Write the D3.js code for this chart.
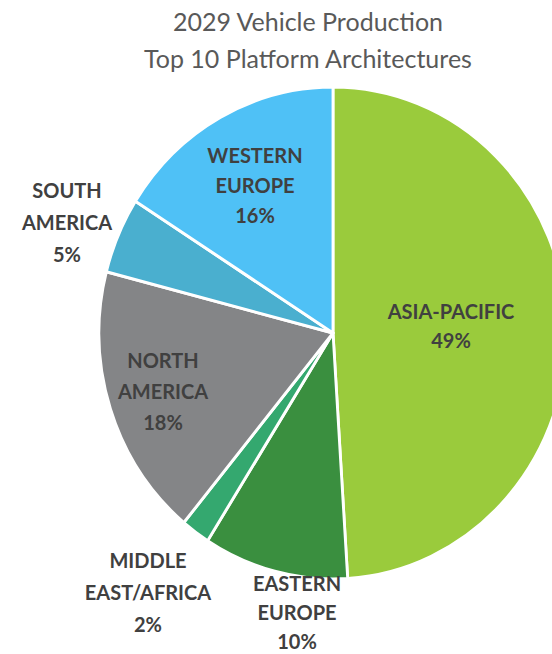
<!DOCTYPE html>
<html>
<head>
<meta charset="utf-8">
<script src="https://cdn.jsdelivr.net/npm/d3@7"></script>
<style>
  html, body { margin: 0; padding: 0; background: #fff; }
  svg { display: block; }
</style>
</head>
<body>
<svg id="chart" width="552" height="654"></svg>
<script>
// Regional share of 2029 production, clockwise from 12 o'clock
const regions = ["ASIA-PACIFIC", "EASTERN EUROPE", "MIDDLE EAST/AFRICA", "NORTH AMERICA", "SOUTH AMERICA", "WESTERN EUROPE"];
const shares = [49, 10, 2, 18, 5, 16];
const titleLines = ["2029 Vehicle Production", "Top 10 Platform Architectures"];

// Presentation
const sliceColors = ["#9acb3c", "#3a8f3f", "#34a86f", "#848587", "#4aafcf", "#4fc1f6"];
// label lines and the centre of each label's first line
const labelLines = [
  ["ASIA-PACIFIC"],
  ["EASTERN", "EUROPE"],
  ["MIDDLE", "EAST/AFRICA"],
  ["NORTH", "AMERICA"],
  ["SOUTH", "AMERICA"],
  ["WESTERN", "EUROPE"]
];
const labelAnchors = [
  [451, 311], [297, 583], [148, 560], [163, 360], [67, 190], [255, 155]
];
const lineGaps = [29, 29, 32, 31, 32, 30];

const svg = d3.select("#chart");
const cx = 333, cy = 333, rx = 234, ry = 246;

const data = regions.map((r, i) => ({
  region: r, value: shares[i], color: sliceColors[i],
  lines: labelLines[i], anchor: labelAnchors[i], gap: lineGaps[i]
}));

const pie = d3.pie().value(d => d.value).sort(null);
const arc = d3.arc().innerRadius(0).outerRadius(ry);

// pie is drawn slightly taller than wide
const g = svg.append("g").attr("transform", `translate(${cx},${cy}) scale(${rx / ry},1)`);
g.selectAll("path")
  .data(pie(data))
  .join("path")
  .attr("d", arc)
  .attr("fill", d => d.data.color)
  .attr("stroke", "#ffffff")
  .attr("stroke-width", 3)
  .attr("stroke-linejoin", "round");

// Title
svg.append("g").selectAll("text")
  .data(titleLines)
  .join("text")
  .attr("x", 308)
  .attr("y", (d, i) => 31 + i * 37)
  .attr("text-anchor", "middle")
  .attr("font-family", "Lato, 'Open Sans', sans-serif")
  .attr("font-size", 25)
  .attr("fill", "#595959")
  .text(d => d);

// Category labels with percentages
const labels = svg.append("g")
  .attr("font-family", "Lato, 'Open Sans', sans-serif")
  .attr("font-weight", "bold")
  .attr("font-size", 20)
  .attr("fill", "#404040")
  .attr("text-anchor", "middle");

data.forEach(d => {
  const rows = d.lines.concat([d.value + "%"]);
  const t = labels.append("text")
    .attr("x", d.anchor[0])
    .attr("y", d.anchor[1])
    .attr("dominant-baseline", "central");
  rows.forEach((row, i) => {
    t.append("tspan")
      .attr("x", d.anchor[0])
      .attr("y", d.anchor[1] + i * d.gap)
      .text(row);
  });
});
</script>
</body>
</html>
